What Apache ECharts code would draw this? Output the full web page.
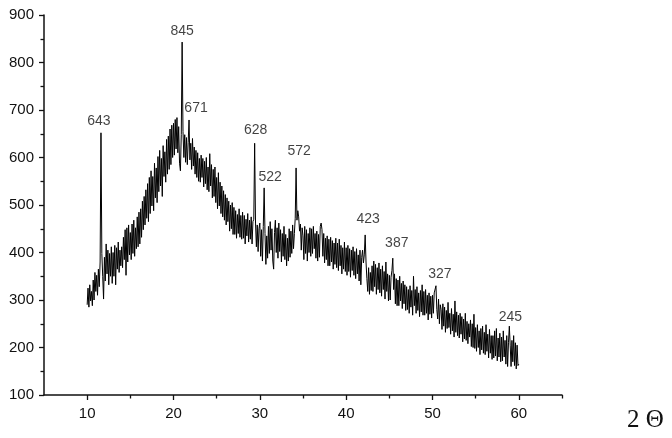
<!DOCTYPE html>
<html>
<head>
<meta charset="utf-8">
<script src="https://cdn.jsdelivr.net/npm/echarts@6/dist/echarts.min.js"></script>
<style>html,body{margin:0;padding:0;background:#fff}#chart{width:672px;height:438px}</style>
</head>
<body>
<div id="chart"></div>
<script>
// Sampling grid of the pattern (2θ in degrees)
const twoThetaStart = 10;
const twoThetaStep = 0.1;
// Intensity, one row per degree (10.0 .. 60.0)
const intensity = [
  290,325,285,332,298,318,288,342,300,358,
  318,352,310,365,328,380,652,398,350,302,
  390,340,418,355,405,332,398,350,412,335,
  400,350,415,332,410,365,422,358,405,372,
  412,368,432,385,448,352,452,380,458,395,
  442,385,460,398,468,392,452,408,475,412,
  485,418,492,432,508,448,518,458,532,472,
  545,465,558,482,572,498,560,488,588,515,
  578,505,602,528,615,540,598,518,625,560,
  612,548,638,565,645,575,660,585,668,600,
  672,605,680,618,684,610,665,588,572,648,
  843,655,600,648,590,642,585,632,679,595,
  630,575,640,582,622,565,615,558,610,550,
  598,548,605,558,598,538,592,545,600,532,
  580,528,608,540,585,515,575,518,580,505,
  558,492,568,498,548,482,540,475,530,468,
  522,458,515,465,508,445,500,450,505,438,
  495,438,488,430,480,440,492,432,478,428,
  485,430,478,418,470,435,482,422,468,428,
  475,418,465,470,630,462,412,458,402,450,
  462,392,448,382,455,536,440,375,435,388,
  455,398,465,405,450,382,365,442,468,400,
  452,388,462,402,448,380,440,392,455,385,
  438,372,430,382,450,390,445,398,458,408,
  440,472,578,468,488,475,445,460,405,452,
  435,385,455,398,448,382,440,400,452,392,
  450,398,455,408,440,388,445,382,438,390,
  455,462,448,392,440,378,430,385,435,372,
  428,372,432,380,425,365,420,375,430,368,
  420,362,428,372,415,355,410,365,422,360,
  410,352,415,360,408,348,405,362,412,352,
  402,345,408,355,395,340,405,332,390,405,
  378,395,437,380,345,318,368,312,358,320,
  372,318,382,328,375,312,368,322,378,315,
  365,308,372,322,360,302,380,318,355,298,
  352,300,348,362,388,322,355,292,345,288,
  342,288,350,298,335,282,340,292,332,278,
  328,280,322,272,330,285,320,268,350,288,
  322,272,328,278,315,265,320,275,332,268,
  318,268,322,272,310,258,315,270,308,262,
  310,272,315,318,330,280,260,302,250,290,
  280,238,292,245,285,232,278,240,295,242,
  272,228,282,235,270,222,298,232,275,225,
  268,220,272,228,265,212,260,218,272,215,
  255,208,250,222,258,202,250,200,270,198,
  242,192,248,200,235,185,240,195,245,188,
  232,185,248,192,228,178,238,188,225,175,
  225,178,235,182,240,172,220,180,230,170,
  222,172,235,180,215,165,225,160,210,245,
  205,160,215,170,225,162,210,155,205,162,
  165
];
// Labelled peaks
const peakTheta = [11.6, 21.0, 21.8, 29.4, 30.5, 34.2, 42.2, 45.4, 50.4, 58.9];
const peakIntensity = [652, 843, 679, 630, 536, 578, 437, 388, 330, 245];
const peakLabels = ['643', '845', '671', '628', '522', '572', '423', '387', '327', '245'];
// Axis ticks
const xTickLabels = [10, 20, 30, 40, 50, 60];
const xMinorTicks = [15, 25, 35, 45, 55, 65];
const xAxisName = '2 \u0398';

// label placement (styling only)
const peakLabelOffset = [[-2,0],[0,1],[7,0],[1,-1],[6,1],[3,-5],[3,-4],[4,-3],[4,0],[1,3]];

const lineData = intensity.map((v, i) => [Math.round((twoThetaStart + i * twoThetaStep) * 10) / 10, v]);
const peakData = peakTheta.map((t, i) => ({
  value: [t, peakIntensity[i]],
  name: peakLabels[i],
  label: { offset: peakLabelOffset[i] }
}));

const FONT = '"Liberation Sans", Arial, sans-serif';
const axisColor = '#111';

const chart = echarts.init(document.getElementById('chart'), null, { renderer: 'canvas' });
chart.setOption({
  animation: false,
  backgroundColor: '#fff',
  grid: { left: 44, right: 110, top: 15, bottom: 43 },
  xAxis: [{
    type: 'value', min: 5, max: 65,
    axisLine: { show: true, lineStyle: { color: axisColor, width: 1.5 } },
    axisTick: { show: true, customValues: xTickLabels, length: 5, lineStyle: { color: axisColor, width: 1.3 } },
    axisLabel: { customValues: xTickLabels, color: '#111', fontFamily: FONT, fontSize: 15, margin: 11 },
    splitLine: { show: false }
  }, {
    type: 'value', min: 5, max: 65, position: 'bottom',
    axisLine: { show: false },
    axisTick: { show: true, customValues: xMinorTicks, length: 3.5, lineStyle: { color: axisColor, width: 1.3 } },
    axisLabel: { show: false },
    splitLine: { show: false }
  }],
  yAxis: {
    type: 'value', min: 100, max: 900, interval: 100,
    axisLine: { show: true, lineStyle: { color: axisColor, width: 1.5 } },
    axisTick: { show: true, length: 5, lineStyle: { color: axisColor, width: 1.3 } },
    minorTick: { show: true, splitNumber: 2, length: 3.5, lineStyle: { color: axisColor, width: 1.3 } },
    axisLabel: { color: '#111', fontFamily: FONT, fontSize: 15, margin: 10 },
    splitLine: { show: false }
  },
  graphic: [{
    type: 'text', left: 627, top: 408,
    style: { text: xAxisName, font: '25px "Liberation Serif", "DejaVu Serif", serif', fill: '#111' }
  }],
  series: [{
    type: 'line', data: lineData, xAxisIndex: 0,
    symbol: 'none', showSymbol: false, sampling: null,
    lineStyle: { color: '#000', width: 1 },
    z: 2
  }, {
    type: 'scatter', data: peakData, xAxisIndex: 0,
    symbolSize: 0, silent: true,
    label: {
      show: true, position: 'top', distance: 5,
      formatter: p => p.name,
      color: '#111', fontFamily: FONT, fontSize: 14
    },
    z: 3
  }]
});
</script>
</body>
</html>
